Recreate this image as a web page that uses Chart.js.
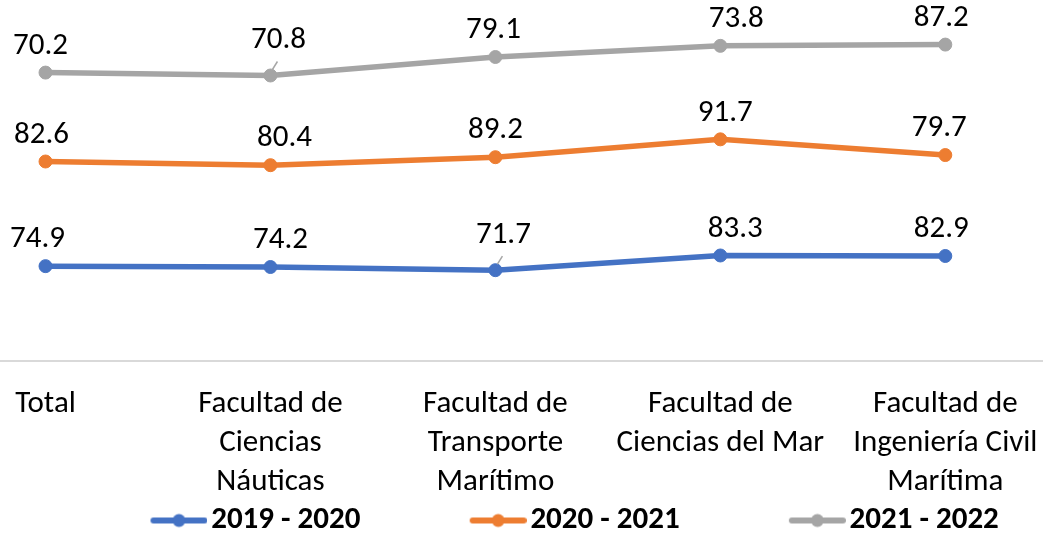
<!DOCTYPE html>
<html>
<head>
<meta charset="utf-8">
<script src="https://cdn.jsdelivr.net/npm/chart.js@4.4.1/dist/chart.umd.min.js"></script>
<style>
  html, body { margin: 0; padding: 0; background: #fff; overflow: hidden; }
  #wrap { position: relative; width: 1043px; height: 546px; }
</style>
</head>
<body>
<div id="wrap"><canvas id="chart"></canvas></div>
<script>
  // categories (already split in lines as in the picture)
  const categories = [
    ['Total'],
    ['Facultad de', 'Ciencias', 'Náuticas'],
    ['Facultad de', 'Transporte', 'Marítimo'],
    ['Facultad de', 'Ciencias del Mar'],
    ['Facultad de', 'Ingeniería Civil', 'Marítima']
  ];
  const seriesNames = ['2019 - 2020', '2020 - 2021', '2021 - 2022'];
  const values2019 = [74.9, 74.2, 71.7, 83.3, 82.9];
  const values2020 = [82.6, 80.4, 89.2, 91.7, 79.7];
  const values2021 = [70.2, 70.8, 79.1, 73.8, 87.2];

  const colors = ['#4472C4', '#ED7D31', '#A5A5A5'];
  const FONT = 'Carlito, Calibri, Lato, sans-serif';

  // legend marker: line with a dot, drawn at the right end of a wider transparent image
  function makeMarker(color) {
    const c = document.createElement('canvas');
    c.width = 175; c.height = 16;
    const g = c.getContext('2d');
    g.strokeStyle = color;
    g.lineWidth = 6;
    g.lineCap = 'round';
    g.beginPath();
    g.moveTo(c.width - 54, 8);
    g.lineTo(c.width - 3, 8);
    g.stroke();
    g.fillStyle = color;
    g.beginPath();
    g.arc(c.width - 28.5, 8, 6.5, 0, Math.PI * 2);
    g.fill();
    return c;
  }
  const markers = colors.map(makeMarker);

  const valueLabels = {
    id: 'valueLabels',
    afterDatasetsDraw(chart, args, opts) {
      const ctx = chart.ctx;
      ctx.save();
      ctx.font = '31px ' + FONT;
      ctx.textAlign = 'center';
      ctx.textBaseline = 'middle';
      chart.data.datasets.forEach((ds, d) => {
        chart.getDatasetMeta(d).data.forEach((pt, i) => {
          const leader = opts.leaders.some(l => l[0] === d && l[1] === i);
          const lx = pt.x + opts.shiftX[d][i];
          const ly = pt.y - (leader ? opts.leaderRise : opts.rise);
          if (leader) {
            ctx.strokeStyle = '#A6A6A6';
            ctx.lineWidth = 1.5;
            ctx.beginPath();
            ctx.moveTo(lx - 1, ly + 21);
            ctx.lineTo(pt.x + 2, pt.y - 6);
            ctx.stroke();
          }
          ctx.fillStyle = '#000';
          ctx.fillText(ds.data[i].y.toFixed(1), lx, ly);
        });
      });
      ctx.restore();
    }
  };

  const series = [values2019, values2020, values2021];

  new Chart(document.getElementById('chart'), {
    type: 'line',
    data: {
      datasets: series.map((vals, d) => ({
        label: seriesNames[d],
        data: vals.map((v, i) => ({ x: i, y: v })),
        borderColor: colors[d],
        backgroundColor: colors[d],
        pointBackgroundColor: colors[d],
        pointBorderColor: colors[d],
        borderWidth: 5.5,
        pointRadius: 6.5,
        pointBorderWidth: 1,
        tension: 0,
        fill: false,
        clip: false
      }))
    },
    options: {
      responsive: true,
      maintainAspectRatio: false,
      animation: false,
      layout: { padding: 0, autoPadding: false },
      scales: {
        x: {
          type: 'linear',
          min: -0.2023,
          max: 4.4343,
          afterBuildTicks: (scale) => { scale.ticks = categories.map((c, i) => ({ value: i })); },
          afterFit: (scale) => { scale.paddingLeft = 0; scale.paddingRight = 0; },
          grid: { display: false, drawTicks: true, tickLength: 24 },
          border: { display: true, color: '#D9D9D9', width: 2 },
          ticks: {
            padding: 0,
            autoSkip: false,
            maxRotation: 0,
            color: '#000',
            font: { family: FONT, size: 31, lineHeight: '39px' },
            callback: (value) => categories[value]
          }
        },
        y: {
          display: false,
          stacked: true,
          min: 0,
          max: 285
        }
      },
      plugins: {
        tooltip: { enabled: false },
        legend: {
          position: 'bottom',
          labels: {
            usePointStyle: true,
            pointStyleWidth: 151.5,
            padding: 3,
            color: '#000',
            font: { family: FONT, size: 31, weight: 'bold' },
            generateLabels: (chart) => chart.data.datasets.map((ds, i) => ({
              text: ds.label,
              pointStyle: markers[i],
              fillStyle: ds.borderColor,
              strokeStyle: ds.borderColor,
              lineWidth: 0,
              hidden: false,
              datasetIndex: i
            }))
          }
        },
        valueLabels: {
          rise: 26.5,
          leaderRise: 35,
          leaders: [[2, 1], [0, 2]],
          shiftX: [[-8, 10, 8, 15, -4], [-4, 14, 0, 5, -6], [-5, 8, -2, 16, -4]]
        }
      }
    },
    plugins: [valueLabels]
  });
</script>
</body>
</html>
